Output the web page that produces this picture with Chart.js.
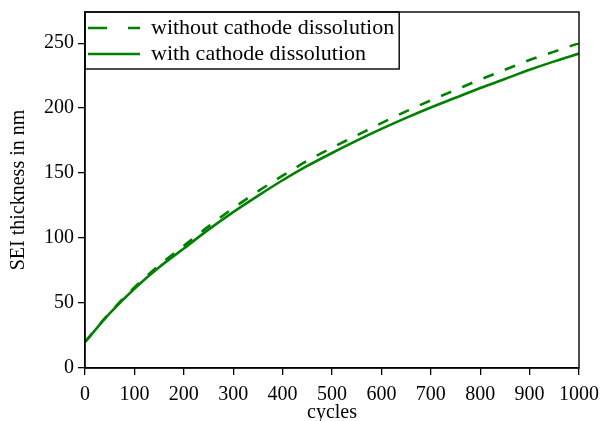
<!DOCTYPE html>
<html>
<head>
<meta charset="utf-8">
<script src="https://cdn.jsdelivr.net/npm/chart.js@4/dist/chart.umd.min.js"></script>
<style>
  html, body { margin: 0; padding: 0; background: #fff; }
  #c { display: block; }
</style>
</head>
<body>
<canvas id="c" width="602" height="421"></canvas>
<script>
const GREEN = '#008000';
const BLACK = '#000';
const FONT = 'Liberation Serif';

const cycles = [0, 50, 100, 150, 200, 250, 300, 350, 400, 450, 500,
                550, 600, 650, 700, 750, 800, 850, 900, 950, 1000];
const withoutDissolution = [20, 42.5, 62, 79, 94, 109, 123, 136, 148, 159.5, 169.5,
                            179, 188.5, 197.5, 206, 214, 222, 229.5, 237, 243.5, 250];
const withDissolution = [20, 42, 61, 77.5, 92, 106.5, 120, 132.5, 144.5, 155.5, 165.5,
                         175, 184, 192.5, 200.5, 208, 215.5, 222.5, 229.5, 236, 242];

const xTicks = [0, 100, 200, 300, 400, 500, 600, 700, 800, 900, 1000];
const yTicks = [0, 50, 100, 150, 200, 250];

function toPoints(ys) {
  return cycles.map((c, i) => ({x: c, y: ys[i]}));
}

// legend sits in the top-left corner of the plot; frame it and the plot
const frames = {
  id: 'frames',
  afterLayout(chart) {
    const a = chart.chartArea;
    chart.legend.left = a.left - 1;
    chart.legend.top = a.top + 1;
  },
  afterDraw(chart) {
    const ctx = chart.ctx;
    const a = chart.chartArea;
    ctx.save();
    ctx.strokeStyle = BLACK;
    ctx.lineWidth = 1.4;
    ctx.strokeRect(a.left, a.top, a.right - a.left, a.bottom - a.top);
    const boxes = chart.legend.legendHitBoxes;
    if (boxes && boxes.length) {
      let right = 0;
      boxes.forEach(b => { right = Math.max(right, b.left + b.width); });
      const last = boxes[boxes.length - 1];
      const bottom = last.top + last.height + 4;
      ctx.strokeRect(a.left, a.top, right + 5 - a.left, bottom - a.top);
    }
    ctx.restore();
  }
};

new Chart(document.getElementById('c'), {
  type: 'line',
  data: {
    datasets: [
      {
        label: 'without cathode dissolution',
        data: toPoints(withoutDissolution),
        borderColor: GREEN,
        backgroundColor: GREEN,
        borderWidth: 2.6,
        borderDash: [11, 12],
        pointRadius: 0,
        cubicInterpolationMode: 'monotone'
      },
      {
        label: 'with cathode dissolution',
        data: toPoints(withDissolution),
        borderColor: GREEN,
        backgroundColor: GREEN,
        borderWidth: 2.6,
        pointRadius: 0,
        cubicInterpolationMode: 'monotone'
      }
    ]
  },
  options: {
    responsive: false,
    animation: false,
    devicePixelRatio: 1,
    layout: { padding: { top: 12, right: 23, left: 0, bottom: 0 } },
    plugins: {
      tooltip: { enabled: false },
      legend: {
        position: 'chartArea',
        align: 'start',
        labels: {
          usePointStyle: true,
          pointStyle: 'line',
          pointStyleWidth: 52,
          padding: 4,
          color: BLACK,
          font: { family: FONT, size: 22 },
          generateLabels(chart) {
            const items = Chart.defaults.plugins.legend.labels.generateLabels(chart);
            items.forEach(item => {
              const ds = chart.data.datasets[item.datasetIndex];
              item.lineWidth = ds.borderWidth;
              item.strokeStyle = ds.borderColor;
              item.lineDash = ds.borderDash ? [19, 21] : [];
            });
            return items;
          }
        }
      }
    },
    scales: {
      x: {
        type: 'linear',
        min: 0,
        max: 1000,
        afterBuildTicks: s => { s.ticks = xTicks.map(v => ({value: v})); },
        afterFit: s => { s.height = 53; s.paddingLeft = 0; s.paddingRight = 0; },
        ticks: {
          color: BLACK, font: { family: FONT, size: 20 }, padding: 8, maxRotation: 0,
          callback: v => String(v)
        },
        grid: { drawOnChartArea: false, color: BLACK, lineWidth: 1.3, tickLength: 7 },
        border: { color: BLACK, width: 1.4 },
        title: {
          display: true, text: 'cycles', color: BLACK,
          font: { family: FONT, size: 20, lineHeight: 1 }, padding: { top: 0, bottom: -2 }
        }
      },
      y: {
        type: 'linear',
        min: 0,
        max: 274,
        afterBuildTicks: s => { s.ticks = yTicks.map(v => ({value: v})); },
        afterFit: s => { s.width = 85; s.paddingTop = 0; s.paddingBottom = 0; },
        ticks: { color: BLACK, font: { family: FONT, size: 20 }, padding: 4 },
        grid: { drawOnChartArea: false, color: BLACK, lineWidth: 1.3, tickLength: 7 },
        border: { color: BLACK, width: 1.4 },
        title: {
          display: true, text: 'SEI thickness in nm', color: BLACK,
          font: { family: FONT, size: 20, lineHeight: 1 }, padding: { top: 9, bottom: 0 }
        }
      }
    }
  },
  plugins: [frames]
});
</script>
</body>
</html>
